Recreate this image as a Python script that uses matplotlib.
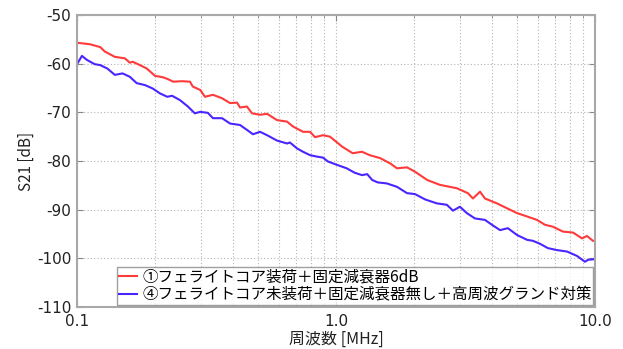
import matplotlib
matplotlib.use("Agg")
import matplotlib.pyplot as plt
from matplotlib.ticker import FixedLocator, FixedFormatter, NullFormatter

plt.rcParams['font.family'] = ['Noto Sans CJK JP', 'DejaVu Sans']
plt.rcParams['axes.unicode_minus'] = False

# Measured S21 traces (frequency in MHz, level in dB)
freq_core = [0.100, 0.112, 0.123, 0.128, 0.140, 0.153, 0.160, 0.164, 0.175, 0.186,
             0.200, 0.215, 0.225, 0.235, 0.254, 0.273, 0.280, 0.299, 0.312, 0.335,
             0.363, 0.390, 0.415, 0.426, 0.453, 0.474, 0.509, 0.542, 0.592, 0.647,
             0.682, 0.746, 0.794, 0.830, 0.891, 0.948, 1.01, 1.06, 1.16, 1.26,
             1.35, 1.48, 1.62, 1.72, 1.88, 2.02, 2.25, 2.52, 2.93, 3.23,
             3.38, 3.60, 3.76, 4.18, 4.57, 5.00, 5.47, 5.97, 6.41, 6.88,
             7.52, 8.23, 8.91, 9.31, 9.82, 10.0]
s21_core = [-55.7, -56.0, -56.6, -57.5, -58.6, -58.9, -59.8, -59.6, -60.3, -61.0,
            -62.5, -62.8, -63.2, -63.7, -63.6, -63.7, -64.7, -65.4, -66.8, -66.4,
            -67.1, -68.1, -68.0, -69.0, -68.8, -70.2, -70.5, -70.3, -71.6, -71.9,
            -72.9, -74.0, -74.0, -75.1, -74.7, -75.0, -76.2, -77.1, -78.4, -78.1,
            -78.8, -79.4, -80.5, -81.5, -81.3, -82.2, -83.9, -84.9, -85.6, -86.6,
            -87.7, -86.3, -87.7, -88.7, -89.7, -90.7, -91.4, -92.1, -93.1, -93.5,
            -94.5, -94.7, -95.9, -95.4, -96.4, -96.4]

freq_gnd = [0.100, 0.1045, 0.109, 0.117, 0.123, 0.131, 0.140, 0.150, 0.160, 0.170,
            0.183, 0.196, 0.209, 0.223, 0.233, 0.250, 0.268, 0.285, 0.299, 0.320,
            0.335, 0.363, 0.390, 0.426, 0.453, 0.478, 0.509, 0.542, 0.592, 0.647,
            0.664, 0.707, 0.746, 0.794, 0.845, 0.891, 0.931, 1.01, 1.10, 1.18,
            1.26, 1.32, 1.38, 1.45, 1.57, 1.72, 1.88, 2.02, 2.21, 2.45,
            2.68, 2.83, 3.01, 3.20, 3.44, 3.76, 4.00, 4.30, 4.61, 5.00,
            5.47, 5.76, 6.13, 6.58, 7.13, 7.80, 8.52, 9.15, 9.40, 9.82, 10.0]
s21_gnd = [-60.1, -58.4, -59.2, -60.1, -60.3, -61.0, -62.3, -62.0, -62.7, -64.0,
           -64.4, -65.1, -66.1, -66.8, -66.6, -67.5, -68.8, -70.2, -69.9, -70.1,
           -71.2, -71.2, -72.3, -72.6, -73.6, -74.5, -74.0, -74.7, -75.8, -76.4,
           -76.2, -77.4, -78.1, -78.8, -79.1, -79.3, -80.1, -80.8, -81.5, -82.4,
           -82.9, -82.7, -83.9, -84.4, -84.6, -85.3, -86.6, -86.8, -87.9, -88.7,
           -89.0, -90.2, -89.4, -90.7, -91.8, -92.1, -93.1, -94.2, -93.8, -95.2,
           -96.2, -96.4, -97.0, -97.9, -98.3, -98.6, -99.5, -100.7, -100.3, -100.2, -100.2]

labels = ["①フェライトコア装荷＋固定減衰器6dB",
          "④フェライトコア未装荷＋固定減衰器無し＋高周波グランド対策"]
colors = ["#ff3a3a", "#4b24ff"]

x_major = [0.1, 1.0, 10.0]
x_major_labels = ["0.1", "1.0", "10.0"]
y_ticks = [-110, -100, -90, -80, -70, -60, -50]

text_color = "#222222"

fig = plt.figure(figsize=(6.23, 3.49), dpi=100)
ax = fig.add_axes([0.1236, 0.1203, 0.8314, 0.8367])

ax.plot(freq_core, s21_core, color=colors[0], lw=1.5, label=labels[0])
ax.plot(freq_gnd, s21_gnd, color=colors[1], lw=1.5, label=labels[1])

ax.set_xscale("log")
ax.set_xlim(0.1, 10.0)
ax.set_ylim(-110, -50)

ax.xaxis.set_major_locator(FixedLocator(x_major))
ax.xaxis.set_major_formatter(FixedFormatter(x_major_labels))
minor = [m * d for d in (0.1, 1.0) for m in range(2, 10)]
ax.xaxis.set_minor_locator(FixedLocator(minor))
ax.xaxis.set_minor_formatter(NullFormatter())
ax.set_yticks(y_ticks)
ax.set_yticklabels([str(v) for v in y_ticks])

ax.grid(True, which="both", linestyle=(0, (1, 2)), color="#b4b4b4", lw=0.8)
ax.tick_params(which="both", direction="in", top=True, right=True,
               color="#888888", labelcolor=text_color)
ax.tick_params(which="major", length=4)
ax.tick_params(which="minor", length=2.5)
ax.tick_params(axis="x", pad=5)
ax.tick_params(axis="y", pad=4)
for lab in ax.get_xticklabels() + ax.get_yticklabels():
    lab.set_fontfamily("DejaVu Sans")
    lab.set_fontsize(11)
for sp in ax.spines.values():
    sp.set_color("#a8a8a8")
    sp.set_linewidth(1.5)

ax.set_xlabel("周波数 [MHz]", fontsize=11.5, labelpad=1, color=text_color)
ax.set_ylabel("S21 [dB]", fontsize=11, labelpad=1.5, color=text_color)

leg = ax.legend(loc="lower right", fontsize=11.2, frameon=True, fancybox=False,
                borderpad=0.1, labelspacing=0.05, handlelength=1.2,
                handletextpad=0.3, borderaxespad=0.12)
leg.get_frame().set_edgecolor("#888888")
leg.get_frame().set_linewidth(1.0)

fig.savefig("out.png", dpi=100)
